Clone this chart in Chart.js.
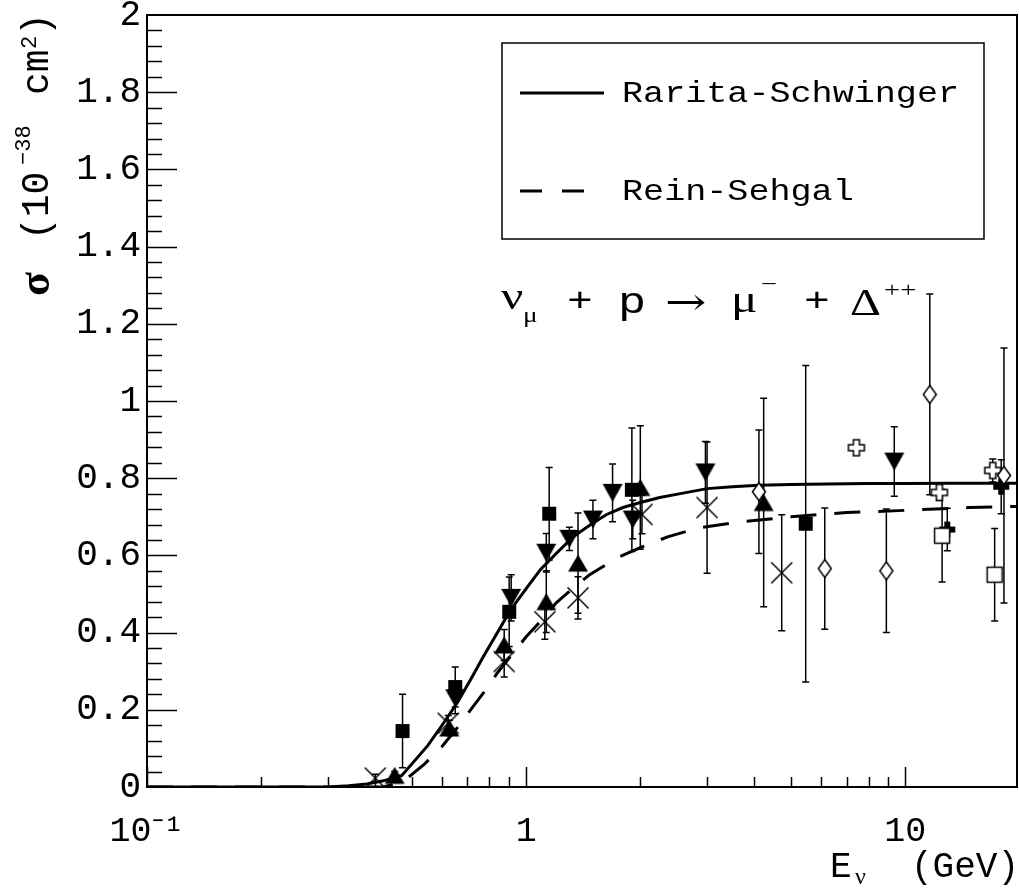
<!DOCTYPE html>
<html>
<head>
<meta charset="utf-8">
<script src="https://cdn.jsdelivr.net/npm/chart.js@4.4.1/dist/chart.umd.min.js"></script>
<style>
  html, body { margin: 0; padding: 0; background: #fff; }
  #chart { display: block; }
</style>
</head>
<body>
<canvas id="chart" width="1019" height="890"></canvas>
<script>
// model curves
const rsE = [0.1, 0.2, 0.3, 0.34, 0.38, 0.42, 0.47, 0.55, 0.6, 0.66, 0.72, 0.77, 0.84, 0.91, 1.0, 1.09, 1.2, 1.33, 1.48, 1.63, 1.8, 2.0, 2.25, 2.55, 3.0, 3.5, 4.1, 5, 6.2, 8, 10, 13, 19.7];
const rsSigma = [0, 0, 0, 0.003, 0.008, 0.016, 0.03, 0.107, 0.16, 0.22, 0.285, 0.337, 0.40, 0.459, 0.514, 0.563, 0.605, 0.648, 0.68, 0.706, 0.724, 0.737, 0.75, 0.76, 0.773, 0.778, 0.782, 0.784, 0.785, 0.786, 0.786, 0.787, 0.787];
const rsgE = [0.1, 0.3, 0.42, 0.45, 0.49, 0.54, 0.6, 0.66, 0.72, 0.78, 0.84, 0.92, 1.0, 1.1, 1.2, 1.33, 1.47, 1.62, 1.77, 2.0, 2.36, 2.87, 3.7, 5.0, 7.0, 9.6, 14.7, 19.7];
const rsgSigma = [0, 0, 0, 0.008, 0.026, 0.06, 0.105, 0.155, 0.205, 0.25, 0.296, 0.345, 0.389, 0.433, 0.477, 0.515, 0.55, 0.575, 0.597, 0.62, 0.648, 0.672, 0.687, 0.70, 0.711, 0.716, 0.724, 0.727];

// measurements: energy (GeV), cross section, error
const fsqE = [0.472, 0.65, 0.902, 1.15, 1.90, 5.46];
const fsqSigma = [0.145, 0.259, 0.454, 0.708, 0.77, 0.682];
const fsqErr = [0.095, 0.052, 0.09, 0.12, 0.16, 0.41];

const triE = [0.45, 0.627, 0.875, 1.13, 1.37, 2.0, 4.23];
const triSigma = [0.03, 0.153, 0.368, 0.48, 0.58, 0.776, 0.737];
const triErr = [0.01, 0.02, 0.04, 0.08, 0.13, 0.16, 0.27];

const itriE = [0.65, 0.913, 1.13, 1.30, 1.50, 1.69, 1.91, 2.97, 9.35];
const itriSigma = [0.23, 0.49, 0.607, 0.643, 0.693, 0.762, 0.693, 0.815, 0.843];
const itriErr = [0.04, 0.06, 0.05, 0.03, 0.05, 0.075, 0.05, 0.08, 0.09];

const xE = [0.40, 0.623, 0.875, 1.12, 1.37, 2.02, 3.0, 4.72];
const xSigma = [0.023, 0.165, 0.325, 0.428, 0.49, 0.706, 0.724, 0.555];
const xErr = [0.01, 0.02, 0.04, 0.045, 0.055, 0.05, 0.17, 0.15];

const diaE = [4.11, 6.13, 8.91, 11.6, 18.2];
const diaSigma = [0.765, 0.566, 0.56, 1.017, 0.807];
const diaErr = [0.16, 0.157, 0.16, 0.26, 0.33];

const osqE = [12.5, 17.2];
const osqSigma = [0.651, 0.55];
const osqErr = [0.12, 0.12];

const ocrE = [7.43, 12.3, 17.0];
const ocrSigma = [0.879, 0.763, 0.82];
const ocrErr = [0, 0.02, 0.03];

const fcrE = [12.9, 17.9];
const fcrSigma = [0.667, 0.778];
const fcrErr = [0.055, 0.07];

const xMajor = [0.1, 1, 10];
const xMinor = [0.2, 0.3, 0.4, 0.5, 0.6, 0.7, 0.8, 0.9, 2, 3, 4, 5, 6, 7, 8, 9];

const pts = (xs, ys) => xs.map((v, i) => ({ x: v, y: ys[i] }));

function makeMarker(kind) {
    const c = document.createElement('canvas');
    c.width = 24; c.height = 24;
    const g = c.getContext('2d');
    g.lineWidth = 1.5; g.strokeStyle = '#000'; g.fillStyle = '#000';
    g.beginPath();
    if (kind === 'square') {
        g.fillRect(5, 5, 14, 14);
    } else if (kind === 'openSquare') {
        g.rect(4.5, 4.5, 15, 15);
        g.fillStyle = '#fff'; g.fill(); g.stroke();
    } else if (kind === 'tri') {
        g.moveTo(12, 3.5); g.lineTo(22, 20.5); g.lineTo(2, 20.5); g.closePath(); g.fill();
    } else if (kind === 'invTri') {
        g.moveTo(2, 3); g.lineTo(22, 3); g.lineTo(12, 21); g.closePath(); g.fill();
    } else if (kind === 'x') {
        g.moveTo(1.5, 1.5); g.lineTo(22.5, 22.5); g.moveTo(22.5, 1.5); g.lineTo(1.5, 22.5); g.stroke();
    } else if (kind === 'diamond') {
        g.moveTo(12, 3); g.lineTo(18.5, 12); g.lineTo(12, 21); g.lineTo(5.5, 12); g.closePath();
        g.fillStyle = '#fff'; g.fill(); g.stroke();
    } else if (kind === 'openCross' || kind === 'cross') {
        const a = 8, t = 3;
        g.moveTo(12 - t, 12 - a); g.lineTo(12 + t, 12 - a); g.lineTo(12 + t, 12 - t); g.lineTo(12 + a, 12 - t);
        g.lineTo(12 + a, 12 + t); g.lineTo(12 + t, 12 + t); g.lineTo(12 + t, 12 + a); g.lineTo(12 - t, 12 + a);
        g.lineTo(12 - t, 12 + t); g.lineTo(12 - a, 12 + t); g.lineTo(12 - a, 12 - t); g.lineTo(12 - t, 12 - t);
        g.closePath();
        if (kind === 'cross') { g.fill(); } else { g.fillStyle = '#fff'; g.fill(); g.stroke(); }
    }
    return c;
}

function markerSet(xs, ys, errs, kind) {
    return {
        data: pts(xs, ys),
        errors: errs,
        showLine: false,
        pointStyle: makeMarker(kind),
        pointRadius: 6,
        order: 1
    };
}

const errorBars = {
    id: 'errorBars',
    beforeDatasetsDraw(chart) {
        const { ctx, scales: { x, y } } = chart;
        ctx.save();
        ctx.strokeStyle = '#000';
        ctx.lineWidth = 1.5;
        chart.data.datasets.forEach(ds => {
            if (!ds.errors) return;
            ds.data.forEach((p, i) => {
                const e = ds.errors[i];
                if (!e) return;
                const px = x.getPixelForValue(p.x);
                const top = y.getPixelForValue(p.y + e);
                const bot = y.getPixelForValue(Math.max(p.y - e, 0));
                ctx.beginPath();
                ctx.moveTo(px, top); ctx.lineTo(px, bot);
                ctx.moveTo(px - 3.5, top); ctx.lineTo(px + 3.5, top);
                ctx.moveTo(px - 3.5, bot); ctx.lineTo(px + 3.5, bot);
                ctx.stroke();
            });
        });
        ctx.restore();
    }
};

const frameAndTicks = {
    id: 'frameAndTicks',
    afterDatasetsDraw(chart) {
        const { ctx, chartArea: a, scales: { x, y } } = chart;
        ctx.save();
        ctx.strokeStyle = '#000';
        ctx.lineWidth = 1.5;
        ctx.beginPath();
        for (let i = 1; i < 50; i++) {
            const py = Math.round(y.getPixelForValue(i * 0.04)) + 0.5;
            ctx.moveTo(a.left, py); ctx.lineTo(a.left + (i % 5 === 0 ? 30 : 15), py);
        }
        xMajor.concat(xMinor).forEach(v => {
            const px = Math.round(x.getPixelForValue(v)) + 0.5;
            ctx.moveTo(px, a.bottom); ctx.lineTo(px, a.bottom - (xMajor.includes(v) ? 20 : 10));
        });
        ctx.stroke();
        ctx.lineWidth = 2;
        ctx.strokeRect(a.left, a.top, a.width, a.height);
        ctx.restore();
    }
};

// draws a text run stretched horizontally, as the original output is
function stretchText(ctx, t, font, px, py, sx) {
    ctx.save();
    ctx.font = font;
    ctx.translate(px, py);
    ctx.scale(sx, 1);
    ctx.fillText(t, 0, 0);
    ctx.restore();
}

const legendBox = {
    id: 'legendBox',
    afterDraw(chart) {
        const { ctx, chartArea: a } = chart;
        const left = a.right - 515, top = a.top + 28;
        ctx.save();
        ctx.strokeStyle = '#000';
        ctx.fillStyle = '#000';
        ctx.lineWidth = 1.5;
        ctx.strokeRect(left, top, 482, 196);
        ctx.textBaseline = 'middle';
        chart.data.datasets.filter(d => d.showLine).forEach((ds, i) => {
            const yy = top + 50 + i * 98;
            ctx.lineWidth = ds.borderWidth;
            ctx.setLineDash(i ? [22, 20] : []);
            ctx.beginPath();
            ctx.moveTo(left + 18, yy); ctx.lineTo(left + (i ? 84 : 102), yy);
            ctx.stroke();
            stretchText(ctx, ds.label, '30px "Liberation Mono"', left + 120, yy + 1, 1.17);
        });
        ctx.restore();
    }
};

const reaction = {
    id: 'reaction',
    afterDraw(chart) {
        const { ctx } = chart;
        const serif = '"Liberation Serif"', mono = '"Liberation Mono"';
        const parts = [
            ['ν', '38px ' + serif, 501, 309],
            ['μ', '21px ' + serif, 523, 322],
            ['+', '33px ' + mono, 567, 311],
            ['p', '36px ' + mono, 618, 313],
            ['→', '38px "DejaVu Serif"', 665, 315],
            ['μ', '38px ' + serif, 731, 312],
            ['−', '22px ' + serif, 761, 291],
            ['+', '33px ' + mono, 804, 311],
            ['Δ', '37px ' + serif, 850, 315],
            ['++', '22px ' + serif, 884, 297]
        ];
        ctx.save();
        ctx.fillStyle = '#000';
        ctx.textBaseline = 'alphabetic';
        parts.forEach(([t, f, px, py]) => stretchText(ctx, t, f, px, py, 1.3));
        ctx.restore();
    }
};

const axisTitles = {
    id: 'axisTitles',
    afterDraw(chart) {
        const { ctx, chartArea: a } = chart;
        const mono = '"Liberation Mono"';
        // y title, read bottom to top: [text, font, start y, baseline x]
        const yParts = [
            ['σ', 'bold 44px "Liberation Serif"', 296, 49],
            ['(10', '38px ' + mono, 240, 48],
            ['−38', '22px ' + mono, 165, 30],
            ['cm', '38px ' + mono, 95, 48],
            ['2', '22px ' + mono, 49, 36],
            [')', '38px ' + mono, 36, 48]
        ];
        ctx.save();
        ctx.fillStyle = '#000';
        ctx.textBaseline = 'alphabetic';
        ctx.save();
        ctx.rotate(-Math.PI / 2);
        yParts.forEach(([t, f, ys, xb]) => { ctx.font = f; ctx.fillText(t, -ys, xb); });
        ctx.restore();
        // x title
        ctx.font = '36px ' + mono;
        ctx.fillText('E', a.right - 187, 877);
        ctx.font = '24px "Liberation Serif"';
        ctx.fillText('ν', a.right - 162, 884);
        ctx.font = '36px ' + mono;
        ctx.textAlign = 'right';
        ctx.fillText('(GeV)', a.right + 2, 877);
        ctx.restore();
    }
};

Chart.defaults.font.family = '"Liberation Mono"';
Chart.defaults.color = '#000';

new Chart(document.getElementById('chart'), {
    type: 'scatter',
    data: {
        datasets: [
            { label: 'Rarita-Schwinger', data: pts(rsE, rsSigma), showLine: true, borderColor: '#000', borderWidth: 3, pointRadius: 0, order: 2 },
            { label: 'Rein-Sehgal', data: pts(rsgE, rsgSigma), showLine: true, borderColor: '#000', borderWidth: 3, borderDash: [26, 18], pointRadius: 0, order: 2 },
            markerSet(fsqE, fsqSigma, fsqErr, 'square'),
            markerSet(triE, triSigma, triErr, 'tri'),
            markerSet(itriE, itriSigma, itriErr, 'invTri'),
            markerSet(xE, xSigma, xErr, 'x'),
            markerSet(diaE, diaSigma, diaErr, 'diamond'),
            markerSet(osqE, osqSigma, osqErr, 'openSquare'),
            markerSet(ocrE, ocrSigma, ocrErr, 'openCross'),
            markerSet(fcrE, fcrSigma, fcrErr, 'cross')
        ]
    },
    options: {
        responsive: false,
        animation: false,
        layout: { autoPadding: false, padding: { top: 15, right: 2, left: 0, bottom: 0 } },
        plugins: { legend: { display: false }, tooltip: { enabled: false } },
        scales: {
            x: {
                type: 'logarithmic',
                min: 0.1,
                max: 19.7,
                grid: { display: false, drawTicks: false },
                border: { display: false },
                afterBuildTicks: s => { s.ticks = xMajor.map(v => ({ value: v })); },
                afterFit: s => { s.height = 103; s.paddingLeft = 0; s.paddingRight = 0; },
                ticks: {
                    autoSkip: false, maxRotation: 0, padding: 24,
                    font: { size: 35 },
                    callback: v => v < 0.5 ? '10⁻¹' : String(v)
                }
            },
            y: {
                min: 0,
                max: 2,
                grid: { display: false, drawTicks: false },
                border: { display: false },
                afterFit: s => { s.width = 147; s.paddingTop = 0; s.paddingBottom = 0; },
                ticks: {
                    stepSize: 0.2, autoSkip: false, padding: 6,
                    font: { size: 36 },
                    callback: v => String(Number(v.toFixed(1)))
                }
            }
        }
    },
    plugins: [errorBars, frameAndTicks, legendBox, reaction, axisTitles]
});
</script>
</body>
</html>
